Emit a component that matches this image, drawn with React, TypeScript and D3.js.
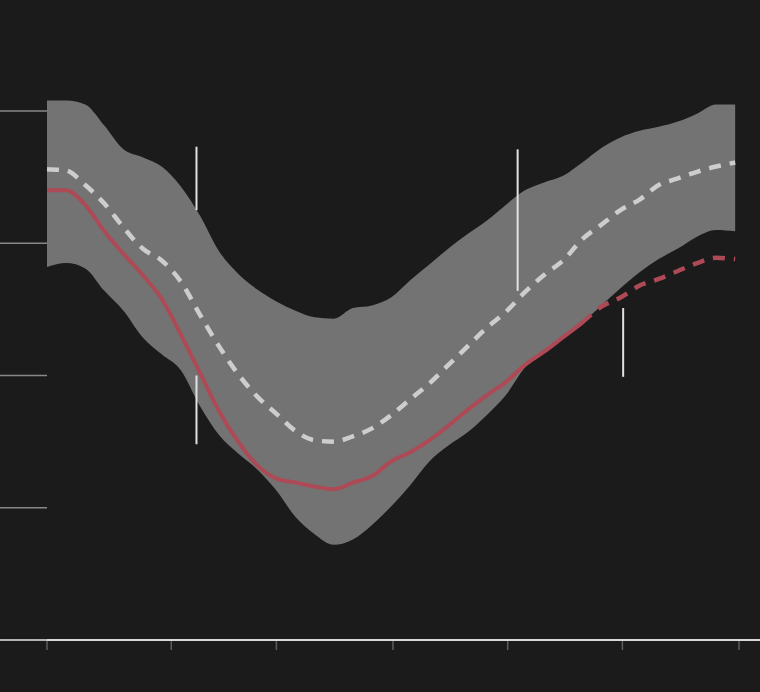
import { useEffect, useRef } from "react";
import * as d3 from "d3";

// Day index along the x axis (sampled every 5 days)
const days = d3.range(0, 181, 5);

// Upper / lower edge of the grey range band
const bandHigh = [
  4.08, 4.08, 4.05, 3.89, 3.71, 3.65, 3.58, 3.43, 3.21, 2.94, 2.77, 2.65, 2.56,
  2.49, 2.44, 2.43, 2.51, 2.53, 2.59, 2.72, 2.84, 2.96, 3.07, 3.17, 3.29, 3.4,
  3.46, 3.51, 3.61, 3.72, 3.8, 3.85, 3.88, 3.92, 3.98, 4.05, 4.05,
];
const bandLow = [
  2.82, 2.85, 2.81, 2.64, 2.49, 2.29, 2.16, 2.04, 1.77, 1.55, 1.41, 1.29, 1.13,
  0.93, 0.8, 0.72, 0.76, 0.87, 1.01, 1.17, 1.35, 1.47, 1.57, 1.7, 1.85, 2.06,
  2.19, 2.3, 2.4, 2.53, 2.66, 2.78, 2.88, 2.96, 3.05, 3.1, 3.09,
];

// Median (dashed light line)
const median = [
  3.56, 3.55, 3.44, 3.3, 3.12, 2.96, 2.87, 2.71, 2.46, 2.22, 2.01, 1.84, 1.71,
  1.58, 1.51, 1.5, 1.54, 1.6, 1.7, 1.82, 1.94, 2.08, 2.22, 2.36, 2.48, 2.63,
  2.76, 2.87, 3.03, 3.14, 3.25, 3.33, 3.44, 3.49, 3.54, 3.58, 3.61,
];

// Current series (red), solid up to observedUntil, dashed after
const current = [
  3.4, 3.4, 3.29, 3.09, 2.92, 2.76, 2.58, 2.31, 2.02, 1.73, 1.5, 1.32, 1.22,
  1.19, 1.16, 1.14, 1.19, 1.24, 1.35, 1.42, 1.51, 1.62, 1.74, 1.85, 1.95, 2.08,
  2.18, 2.29, 2.4, 2.52, 2.59, 2.68, 2.73, 2.79, 2.85, 2.89, 2.88,
];
const observedUntil = 142;

const gridValues = [0, 1, 2, 3, 4];
const xTickValues = [0, 32.5, 60, 90.5, 120.5, 150.5, 181];

// Vertical annotation markers
const markers = [
  { day: 39.1, lo: 3.25, hi: 3.73 },
  { day: 39.1, lo: 1.48, hi: 2.0 },
  { day: 123.1, lo: 2.64, hi: 3.71 },
  { day: 150.7, lo: 1.99, hi: 2.51 },
];

const W = 760;
const H = 692;

export default function App() {
  const svgRef = useRef<SVGSVGElement>(null);

  useEffect(() => {
    document.body.style.margin = "0";
    document.body.style.background = "#1b1b1b";

    const svg = d3.select(svgRef.current!);
    svg.selectAll("*").remove();

    const x = d3.scaleLinear().domain([0, 181]).range([47, 739]);
    const y = d3.scaleLinear().domain([0, 4]).range([640, 111]);

    svg.append("rect").attr("width", W).attr("height", H).attr("fill", "#1b1b1b");

    // Gridline stubs left of the plot
    svg
      .selectAll(".grid")
      .data(gridValues)
      .join("line")
      .attr("class", "grid")
      .attr("x1", 0)
      .attr("x2", x(0))
      .attr("y1", (d) => y(d))
      .attr("y2", (d) => y(d))
      .attr("stroke", (d) => (d === 0 ? "#b4b4b4" : "#888"))
      .attr("stroke-width", (d) => (d === 0 ? 2 : 1.3));

    const rows = days.map((d, i) => ({
      day: d,
      hi: bandHigh[i],
      lo: bandLow[i],
      med: median[i],
      cur: current[i],
    }));

    const area = d3
      .area<(typeof rows)[0]>()
      .x((d) => x(d.day))
      .y0((d) => y(d.lo))
      .y1((d) => y(d.hi))
      .curve(d3.curveMonotoneX);

    svg.append("path").attr("d", area(rows)).attr("fill", "#737373");

    const line = (key: "med" | "cur") =>
      d3
        .line<(typeof rows)[0]>()
        .x((d) => x(d.day))
        .y((d) => y(d[key]))
        .curve(d3.curveMonotoneX);

    svg
      .append("path")
      .attr("d", line("med")(rows))
      .attr("fill", "none")
      .attr("stroke", "#cdcdcd")
      .attr("stroke-width", 4.5)
      .attr("stroke-dasharray", "12,9");

    // Clip regions for observed / projected parts of the red line
    const defs = svg.append("defs");
    defs
      .append("clipPath")
      .attr("id", "observed")
      .append("rect")
      .attr("x", 0)
      .attr("y", 0)
      .attr("width", x(observedUntil))
      .attr("height", H);
    defs
      .append("clipPath")
      .attr("id", "projected")
      .append("rect")
      .attr("x", x(observedUntil))
      .attr("y", 0)
      .attr("width", W - x(observedUntil))
      .attr("height", H);

    svg
      .append("path")
      .attr("d", line("cur")(rows))
      .attr("clip-path", "url(#observed)")
      .attr("fill", "none")
      .attr("stroke", "#ad4a55")
      .attr("stroke-width", 4)
      .attr("stroke-linejoin", "round");

    svg
      .append("path")
      .attr("d", line("cur")(rows.filter((d) => d.day >= observedUntil - 5)))
      .attr("clip-path", "url(#projected)")
      .attr("fill", "none")
      .attr("stroke", "#ad4a55")
      .attr("stroke-width", 4.5)
      .attr("stroke-dasharray", "12,9");

    // Annotation markers
    svg
      .selectAll(".marker")
      .data(markers)
      .join("line")
      .attr("class", "marker")
      .attr("x1", (d) => x(d.day))
      .attr("x2", (d) => x(d.day))
      .attr("y1", (d) => y(d.hi))
      .attr("y2", (d) => y(d.lo))
      .attr("stroke", "#e2e2e2")
      .attr("stroke-width", 2);

    // X axis
    svg
      .append("line")
      .attr("x1", x(0))
      .attr("x2", W)
      .attr("y1", y(0))
      .attr("y2", y(0))
      .attr("stroke", "#d8d8d8")
      .attr("stroke-width", 2);

    svg
      .selectAll(".tick")
      .data(xTickValues)
      .join("line")
      .attr("class", "tick")
      .attr("x1", (d) => x(d))
      .attr("x2", (d) => x(d))
      .attr("y1", y(0) + 1)
      .attr("y2", y(0) + 10)
      .attr("stroke", "#5c5c5c")
      .attr("stroke-width", 1.5);

    return () => {
      svg.selectAll("*").remove();
    };
  }, []);

  return <svg ref={svgRef} width={W} height={H} style={{ display: "block" }} />;
}
